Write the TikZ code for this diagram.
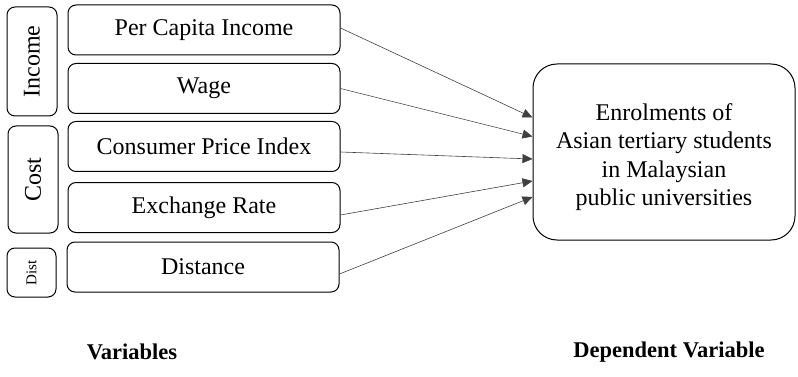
\documentclass[tikz,border=0pt]{standalone}
\usepackage{fontspec}
\setmainfont{Liberation Serif}
\usetikzlibrary{arrows.meta,calc}

\tikzset{
  varbox/.style={draw, line width=1pt, rounded corners=8pt, inner sep=0pt,
    minimum width=272pt, minimum height=50pt, font=\fontsize{24}{28}\selectfont},
  groupbox/.style={draw, line width=1pt, rounded corners=8pt, inner sep=0pt},
  depbox/.style={draw, line width=1pt, rounded corners=24pt, inner sep=0pt,
    minimum width=262pt, minimum height=176pt},
  deptext/.style={align=center, inner sep=0pt, font=\fontsize{24}{28.5}\selectfont},
  link/.style={draw=black!75, line width=0.6pt, -{Triangle[length=10pt,width=9pt]}},
  caption/.style={font=\bfseries\fontsize{22.5}{26}\selectfont}
}

\begin{document}
\begin{tikzpicture}[x=1pt, y=-1pt]
  \useasboundingbox (0,0) rectangle (798,377);

  % explanatory variables
  \node[varbox] (pci)  at (204,30)    {Per Capita Income};
  \node[varbox] (wage) at (204,88.5)  {Wage};
  \node[varbox] (cpi)  at (204,146.5) {Consumer Price Index};
  \node[varbox] (exr)  at (204,207.5) {Exchange Rate};
  \node[varbox] (dist) at (203,267)   {Distance};

  % group labels
  \node[groupbox, minimum width=50pt, minimum height=109pt] (gincome) at (32,61.5)
    {\rotatebox{90}{\fontsize{24}{28}\selectfont Income}};
  \node[groupbox, minimum width=50pt, minimum height=107pt] (gcost) at (33,179.5)
    {\rotatebox{90}{\fontsize{24}{28}\selectfont Cost}};
  \node[groupbox, minimum width=49pt, minimum height=49pt] (gdist) at (31.5,272.5)
    {\rotatebox{90}{\fontsize{15}{18}\selectfont Dist}};

  % dependent variable
  \node[depbox] (dep) at (664,152) {};
  \node[deptext] (deptxt) at ($(dep.center)+(0,5)$)
    {Enrolments of\\Asian tertiary students\\in Malaysian\\public universities};

  % connector end points
  \coordinate (s1) at ($(pci.east)+(0,-2)$);
  \coordinate (s2) at ($(wage.east)+(0,0)$);
  \coordinate (s3) at ($(cpi.east)+(0,5.5)$);
  \coordinate (s4) at ($(exr.east)+(0,7.5)$);
  \coordinate (s5) at ($(dist.east)+(0,7)$);
  \coordinate (t1) at ($(dep.west)+(0,-34.5)$);
  \coordinate (t2) at ($(dep.west)+(0,-15.5)$);
  \coordinate (t3) at ($(dep.west)+(0,7)$);
  \coordinate (t4) at ($(dep.west)+(0,29)$);
  \coordinate (t5) at ($(dep.west)+(0,45)$);

  \draw[link] (s1) -- (t1);
  \draw[link] (s2) -- (t2);
  \draw[link] (s3) -- (t3);
  \draw[link] (s4) -- (t4);
  \draw[link] (s5) -- (t5);

  % captions
  \node[caption] (capvar) at (132,352) {Variables};
  \node[caption] (capdep) at (669,352) {Dependent Variable};
\end{tikzpicture}
\end{document}
